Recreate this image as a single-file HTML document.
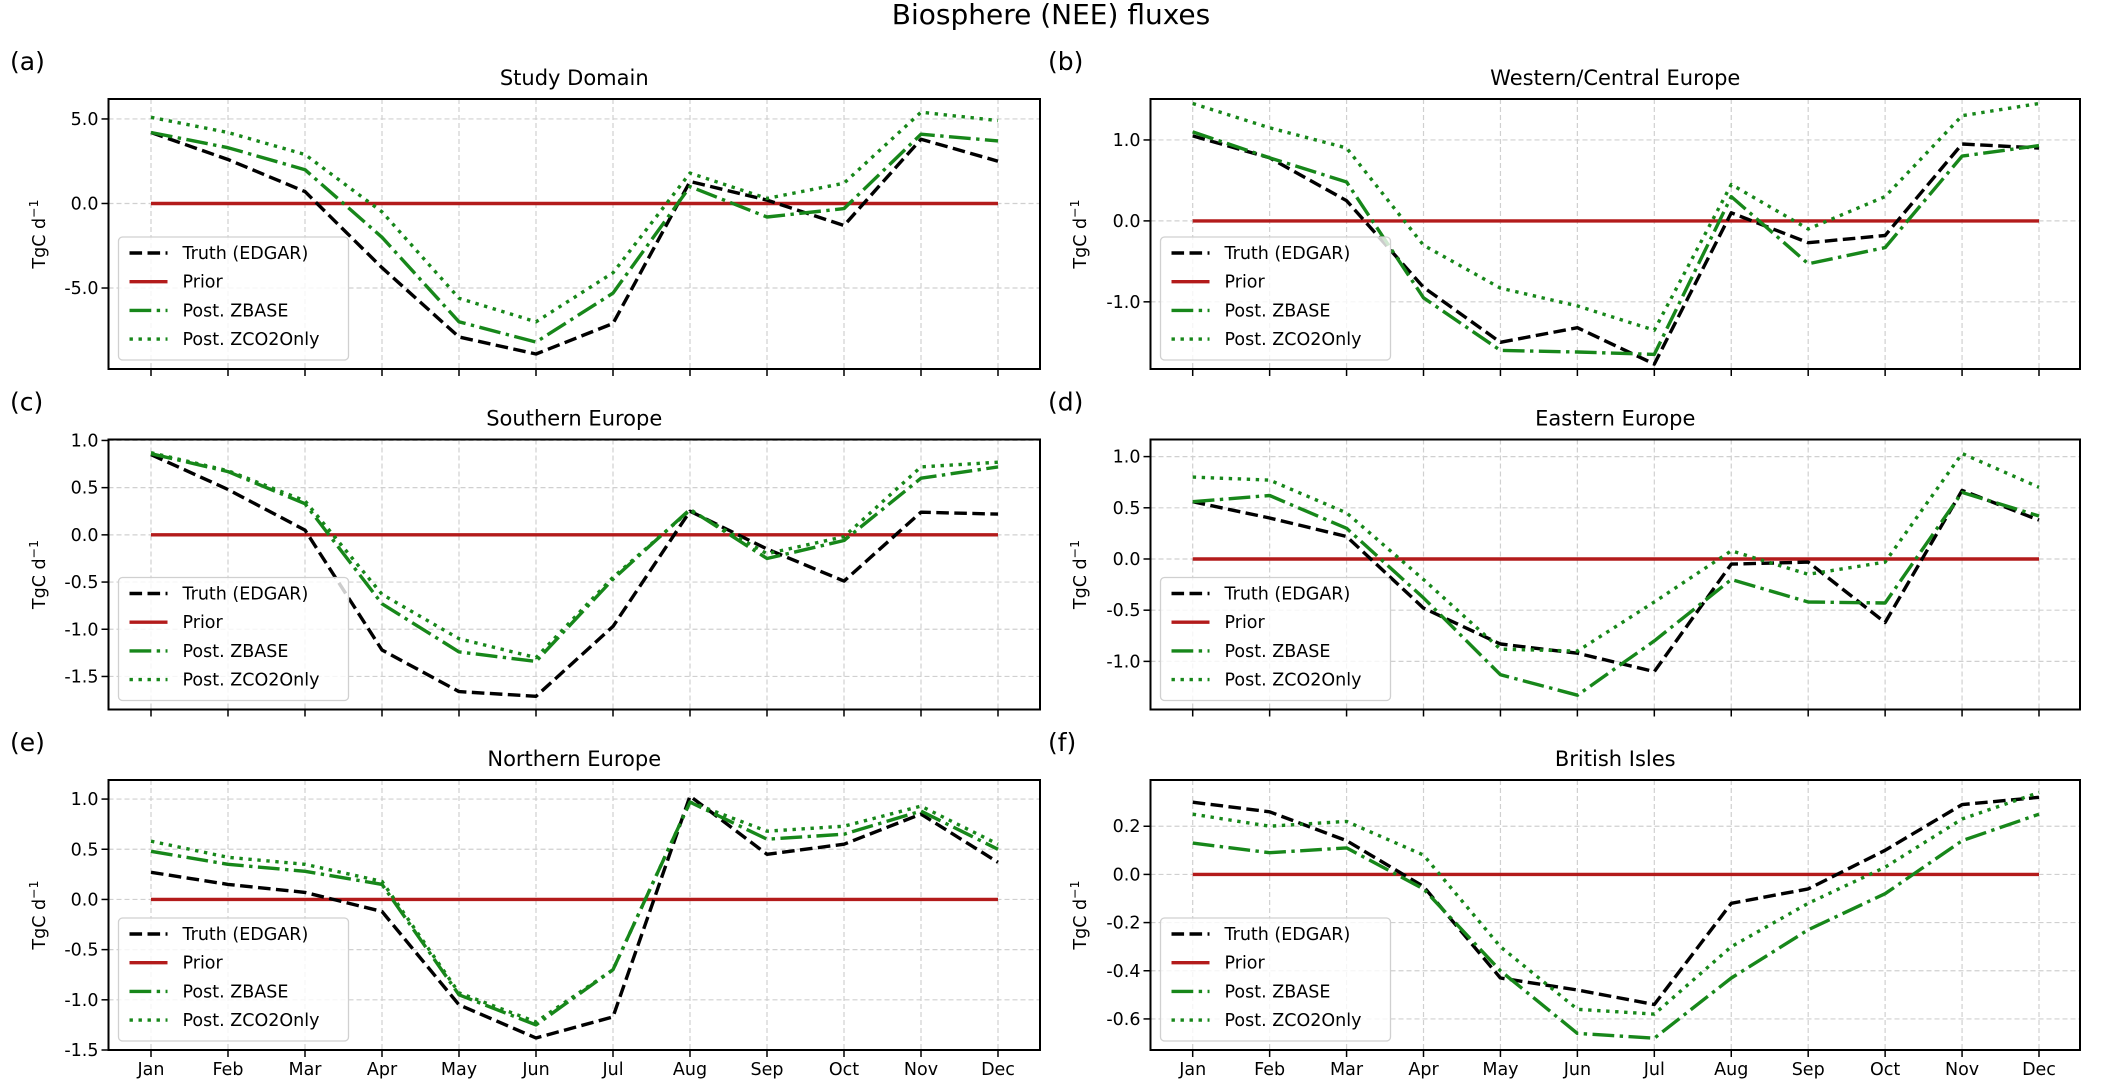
<!DOCTYPE html>
<html><head><meta charset="utf-8">
<style>
html,body{margin:0;padding:0;background:#fff;}
svg{display:block;font-family:"DejaVu Sans","Liberation Sans",sans-serif;}
</style></head>
<body>
<svg id="fig" width="2102" height="1079" viewBox="0 0 2102 1079">
<text x="1051" y="24" text-anchor="middle" font-size="28" fill="#000">Biosphere (NEE) fluxes</text>
</svg>
<script>
const months = ["Jan","Feb","Mar","Apr","May","Jun","Jul","Aug","Sep","Oct","Nov","Dec"];
const panelTitles = ["Study Domain","Western/Central Europe","Southern Europe","Eastern Europe","Northern Europe","British Isles"];
const panelLetters = ["(a)","(b)","(c)","(d)","(e)","(f)"];
const yTicksA = [5.0,0.0,-5.0];
const yTicksB = [1.0,0.0,-1.0];
const yTicksC = [1.0,0.5,0.0,-0.5,-1.0,-1.5];
const yTicksD = [1.0,0.5,0.0,-0.5,-1.0];
const yTicksE = [1.0,0.5,0.0,-0.5,-1.0,-1.5];
const yTicksF = [0.2,0.0,-0.2,-0.4,-0.6];
const truthA = [4.2,2.6,0.7,-3.8,-7.9,-8.9,-7.1,1.3,0.2,-1.3,3.8,2.5];
const zbaseA = [4.2,3.3,2.0,-2.0,-7.0,-8.2,-5.3,1.0,-0.8,-0.3,4.1,3.7];
const zco2A  = [5.1,4.2,2.9,-0.5,-5.6,-7.0,-4.1,1.8,0.3,1.2,5.4,4.9];
const truthB = [1.05,0.78,0.25,-0.82,-1.5,-1.32,-1.77,0.1,-0.27,-0.18,0.95,0.9];
const zbaseB = [1.1,0.78,0.48,-0.95,-1.6,-1.62,-1.65,0.3,-0.53,-0.33,0.8,0.93];
const zco2B  = [1.45,1.15,0.9,-0.3,-0.83,-1.05,-1.35,0.45,-0.1,0.3,1.3,1.45];
const truthC = [0.85,0.48,0.05,-1.22,-1.66,-1.71,-0.97,0.25,-0.15,-0.49,0.24,0.22];
const zbaseC = [0.86,0.67,0.33,-0.73,-1.24,-1.34,-0.47,0.27,-0.25,-0.06,0.6,0.72];
const zco2C  = [0.87,0.68,0.36,-0.63,-1.1,-1.3,-0.45,0.26,-0.2,-0.02,0.72,0.77];
const truthD = [0.56,0.4,0.22,-0.48,-0.83,-0.92,-1.1,-0.05,-0.03,-0.62,0.67,0.38];
const zbaseD = [0.56,0.62,0.3,-0.38,-1.13,-1.33,-0.8,-0.2,-0.42,-0.43,0.65,0.42];
const zco2D  = [0.8,0.77,0.45,-0.2,-0.88,-0.9,-0.42,0.08,-0.15,-0.03,1.03,0.7];
const truthE = [0.27,0.15,0.07,-0.12,-1.05,-1.38,-1.17,1.03,0.45,0.55,0.85,0.37];
const zbaseE = [0.48,0.35,0.28,0.15,-0.95,-1.25,-0.7,0.97,0.6,0.65,0.88,0.5];
const zco2E  = [0.58,0.42,0.35,0.18,-0.93,-1.22,-0.7,0.97,0.68,0.73,0.93,0.55];
const truthF = [0.3,0.26,0.14,-0.05,-0.43,-0.48,-0.54,-0.12,-0.06,0.1,0.29,0.32];
const zbaseF = [0.13,0.09,0.11,-0.06,-0.4,-0.66,-0.68,-0.43,-0.23,-0.08,0.14,0.25];
const zco2F  = [0.25,0.2,0.22,0.08,-0.3,-0.56,-0.58,-0.3,-0.12,0.03,0.23,0.34];
const priorVals = [0,0,0,0,0,0,0,0,0,0,0,0];

const NS="http://www.w3.org/2000/svg";
const svg=document.getElementById('fig');
function mk(tag,attrs,parent){const e=document.createElementNS(NS,tag);for(const k in attrs)e.setAttribute(k,attrs[k]);(parent||svg).appendChild(e);return e;}

const panels=[
 {t:truthA,z:zbaseA,c:zco2A,ticks:yTicksA,ymin:-9.79,ymax:6.18},
 {t:truthB,z:zbaseB,c:zco2B,ticks:yTicksB,ymin:-1.83,ymax:1.506},
 {t:truthC,z:zbaseC,c:zco2C,ticks:yTicksC,ymin:-1.85,ymax:1.01},
 {t:truthD,z:zbaseD,c:zco2D,ticks:yTicksD,ymin:-1.47,ymax:1.167},
 {t:truthE,z:zbaseE,c:zco2E,ticks:yTicksE,ymin:-1.5,ymax:1.19},
 {t:truthF,z:zbaseF,c:zco2F,ticks:yTicksF,ymin:-0.729,ymax:0.392}
];
const lw=3.4;
const series=[
 {key:'t',name:'Truth (EDGAR)',color:'#000',dash:(3.7*lw)+' '+(1.6*lw),dn:'truth-line'},
 {key:'p',name:'Prior',color:'#b31b1b',dash:'none',dn:'prior-line'},
 {key:'z',name:'Post. ZBASE',color:'#17871a',dash:(6.4*lw)+' '+(1.6*lw)+' '+(1*lw)+' '+(1.6*lw),dn:'zbase-line'},
 {key:'c',name:'Post. ZCO2Only',color:'#17871a',dash:(1*lw)+' '+(1.65*lw),dn:'zco2only-line'}
];

panels.forEach((P,i)=>{
  const col=i%2,row=Math.floor(i/2);
  const L=col?1150.5:108.5, R=col?2080:1040, T=99+row*340.5, B=T+270;
  const x0=col?1192.7:151, x1=col?2039:998;
  const xs=k=>x0+(x1-x0)*k/11;
  const ys=v=>B-(v-P.ymin)/(P.ymax-P.ymin)*(B-T);
  const g=mk('g',{});
  
  
  months.forEach((m,k)=>{const l=mk('line',{x1:xs(k),x2:xs(k),y1:T,y2:B,stroke:'#d0d0d0','stroke-width':1.2,'stroke-dasharray':'5 3'},g);
    });
  P.ticks.forEach(v=>{const l=mk('line',{x1:L,x2:R,y1:ys(v),y2:ys(v),stroke:'#d0d0d0','stroke-width':1.2,'stroke-dasharray':'5 3'},g);
    });
  const vals={t:P.t,z:P.z,c:P.c,p:priorVals};
  [series[1],series[0],series[2],series[3]].forEach(s=>{
    const pts=vals[s.key].map((v,k)=>xs(k).toFixed(1)+','+ys(v).toFixed(1)).join(' ');
    const pl=mk('polyline',{points:pts,fill:'none',stroke:s.color,'stroke-width':lw,'stroke-dasharray':s.dash,'stroke-linejoin':'round'},g);
    
  });
  const fr=mk('rect',{x:L,y:T,width:R-L,height:B-T,fill:'none',stroke:'#000','stroke-width':2},g);
  
  months.forEach((m,k)=>{
    mk('line',{x1:xs(k),x2:xs(k),y1:B,y2:B+7,stroke:'#000','stroke-width':1.5},g);
    if(row===2){const t=mk('text',{x:xs(k),y:B+25,'text-anchor':'middle','font-size':17.5,fill:'#000'},g);t.textContent=m;
      }
  });
  P.ticks.forEach(v=>{
    mk('line',{x1:L-7,x2:L,y1:ys(v),y2:ys(v),stroke:'#000','stroke-width':1.5},g);
    const t=mk('text',{x:L-10,y:ys(v)+6,'text-anchor':'end','font-size':17.5,fill:'#000'},g);
    t.textContent=v.toFixed(1);
    
  });
  const yl=mk('text',{x:0,y:0,transform:`translate(${col?1086:45},${(T+B)/2}) rotate(-90)`,'text-anchor':'middle','font-size':17.5,fill:'#000'},g);
  yl.innerHTML='TgC d<tspan dy="-7" font-size="12.5">−1</tspan>';
  
  const tt=mk('text',{x:(L+R)/2,y:T-14,'text-anchor':'middle','font-size':21,fill:'#000'},g);
  tt.textContent=panelTitles[i];
  
  const pl=mk('text',{x:col?1048:10,y:T-29,'font-size':25,fill:'#000'},g);
  pl.textContent=panelLetters[i];
  
  const lg=mk('g',{},g);
  
  const lx=L+10, ly=B-132;
  mk('rect',{x:lx,y:ly,width:230,height:123,rx:4,fill:'rgba(255,255,255,0.8)',stroke:'#d0d0d0','stroke-width':1.3},lg);
  series.forEach((s,j)=>{
    const ey=ly+16+j*28.7;
    const e=mk('g',{},lg);
    
    mk('line',{x1:lx+11,x2:lx+49,y1:ey,y2:ey,stroke:s.color,'stroke-width':lw,'stroke-dasharray':s.dash},e);
    const t=mk('text',{x:lx+64,y:ey+6,'font-size':17.5,fill:'#000'},e);t.textContent=s.name;
  });
});
</script>
</body></html>
